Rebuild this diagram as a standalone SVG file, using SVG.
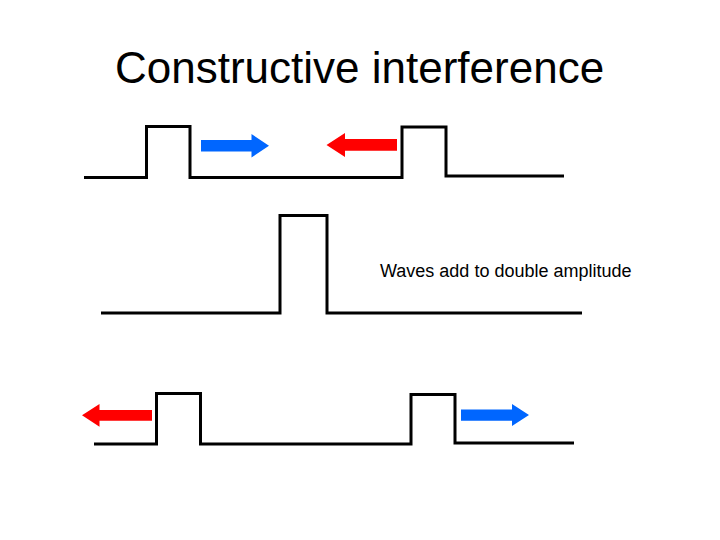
<svg xmlns="http://www.w3.org/2000/svg" width="720" height="540" viewBox="0 0 720 540">
<style>
.wave{fill:none;stroke:#000;stroke-width:3;stroke-linejoin:miter}
.blue{fill:#0066FF}
.red{fill:#FF0000}
.title{font-family:"Liberation Sans",Arial,sans-serif;font-size:44px;fill:#000}
.label{font-family:"Liberation Sans",Arial,sans-serif;font-size:18px;fill:#000}
</style>
<rect width="720" height="540" fill="#fff"/>
<text class="title" x="115" y="83">Constructive interference</text>
<g id="wave-top">
<path class="wave" d="M84,177.5 H146.5 V126.5 H190 V177.5 H402 V127 H446 V176 H564"/>
</g>
<g id="wave-middle">
<path class="wave" d="M101,313 H280 V215.5 H327 V313 H582"/>
</g>
<g id="wave-bottom">
<path class="wave" d="M94,444 H156.5 V393.5 H200.5 V444 H411 V394.5 H455 V443 H574"/>
</g>
<g id="label">
<text class="label" x="380" y="277">Waves add to double amplitude</text>
</g>
<g id="connectors">
<polygon class="blue" points="201,140 251.5,140 251.5,134 269,145.8 251.5,157.5 251.5,151.5 201,151.5"/>
<polygon class="red" points="397,139 345,139 345,133 326.5,145 345,157 345,150.7 397,150.7"/>
<polygon class="red" points="152,410 99.5,410 99.5,404 82,415.3 99.5,426.7 99.5,420.7 152,420.7"/>
<polygon class="blue" points="461,409.5 512,409.5 512,404 529,415 512,426 512,420.7 461,420.7"/>
</g>
</svg>
